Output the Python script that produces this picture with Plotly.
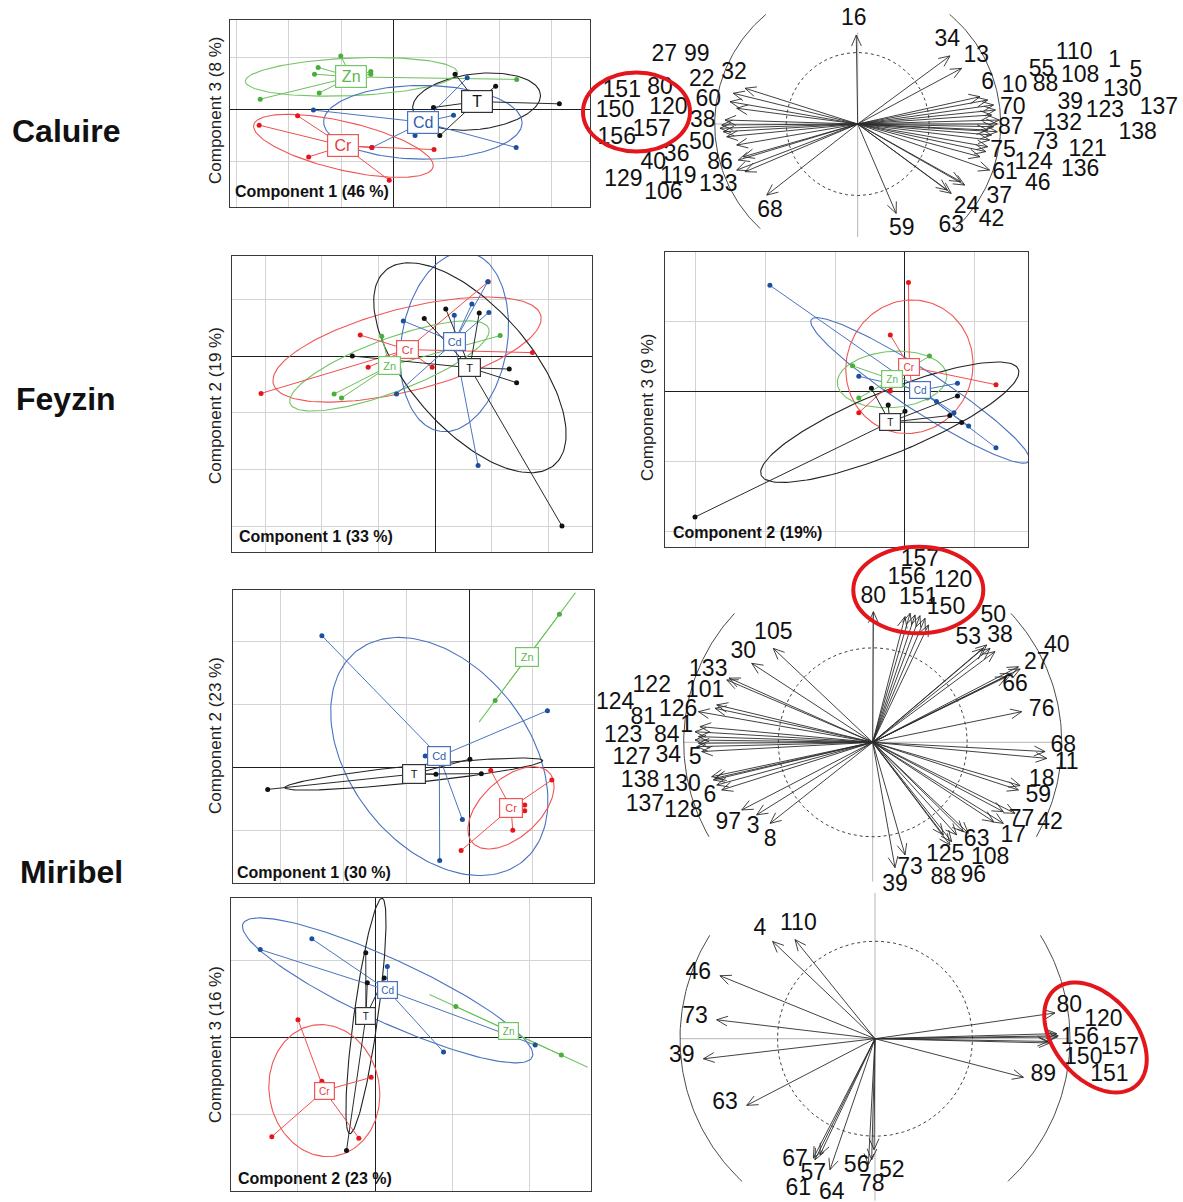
import numpy as np
import plotly.graph_objects as go

W, H = 1183, 1202

# ------------------------------------------------------------------
# DATA — scatter panels (group coordinates, in grid units)
# ------------------------------------------------------------------
# Caluire : component 1 (x) / component 3 (y)
cal_zn_x = [-1.01, -1.44, -1.51, -2.54, -1.42, -0.44, 2.33, -0.44]
cal_zn_y = [1.02, 0.80, 0.67, 0.19, 0.31, 0.67, 0.57, 0.72]
cal_t_x = [1.16, 1.93, 3.14, 0.87, 0.75, 1.56]
cal_t_y = [0.67, 0.44, 0.10, -0.51, 0.03, 0.13]
cal_cd_x = [-1.53, 1.39, 0.40, 2.32, -0.42, 1.13]
cal_cd_y = [-0.02, 0.60, -0.51, -0.74, -0.74, -0.12]
cal_cr_x = [-2.56, -1.83, -1.62, -0.09, -0.42, 0.76]
cal_cr_y = [-0.31, -0.13, -0.92, -1.37, -0.74, -0.78]

# Feyzin : component 1 (x) / component 2 (y)
fey12_cr_x = [-3.07, -1.32, -1.18, -0.05, 0.94, 1.72]
fey12_cr_y = [-0.66, 0.37, -0.20, -0.20, 1.31, 0.06]
fey12_zn_x = [-1.78, -1.65, -0.94, 1.15]
fey12_zn_y = [-0.67, -0.74, 0.35, 0.36]
fey12_cd_x = [-0.56, 0.34, 0.65, 0.95, 0.93, -0.68, 0.76]
fey12_cd_y = [0.62, 0.72, 0.92, 0.77, 1.31, -0.67, -1.93]
fey12_t_x = [-1.46, -0.19, 0.19, 0.78, 1.31, 1.44, 2.24]
fey12_t_y = [0.00, 0.66, 0.83, 0.76, -0.23, -0.47, -3.00]

# Feyzin : component 2 (x) / component 3 (y)
fey23_cr_x = [0.05, -0.21, 1.30, -0.66, -0.21, 0.11]
fey23_cr_y = [1.56, 0.81, 0.10, -0.30, 0.01, -0.04]
fey23_zn_x = [0.35, -0.75, -0.66, 0.32]
fey23_zn_y = [0.51, 0.37, -0.09, -0.09]
fey23_cd_x = [-1.93, -0.66, 0.75, 0.70, 0.91, 1.30, 0.45]
fey23_cd_y = [1.52, 0.22, 0.12, -0.30, -0.49, -0.80, -0.14]
fey23_t_x = [-3.00, -0.48, -0.24, 0.00, 0.75, 0.81, 0.64]
fey23_t_y = [-1.79, 0.05, -0.19, -0.28, -0.06, -0.44, -0.34]

# Miribel : component 1 (x) / component 2 (y)
mir12_cd_x = [-2.34, 1.24, -0.70, -0.11, -0.47]
mir12_cd_y = [2.09, 0.90, 0.18, -0.83, -1.48]
mir12_t_x = [-3.20, 0.01, -0.53, 0.19]
mir12_t_y = [-0.35, 0.13, -0.11, -0.10]
mir12_cr_x = [0.34, 1.31, 0.88, 0.88, 0.69, -0.13]
mir12_cr_y = [-0.05, -0.20, -0.60, -0.69, -1.00, -1.32]
mir12_zn_x = [1.43, 0.41]
mir12_zn_y = [2.43, 1.06]

# Miribel : component 2 (x) / component 3 (y)
mir23_cd_x = [-1.49, -0.82, 0.16, 0.89, 2.08]
mir23_cd_y = [1.14, 1.28, 0.92, -0.19, -0.10]
mir23_zn_x = [1.05, 2.42]
mir23_zn_y = [0.40, -0.23]
mir23_t_x = [-0.12, -0.10, 0.12, -0.37]
mir23_t_y = [1.10, 0.71, 0.77, -1.47]
mir23_cr_x = [-1.00, -1.34, -0.21, -0.05, -0.69]
mir23_cr_y = [0.23, -1.29, -1.31, -0.52, -0.57]

# ------------------------------------------------------------------
# DATA — correlation circles (arrow tips and label positions, radius 1 = outer circle)
# ------------------------------------------------------------------
cal_tip_x = [-0.01, 0.645, 0.726, 0.855, 0.909, 0.950, 0.963, 0.936, 0.990, 0.976, 0.950, 0.909,
             0.976, 0.936, 0.922, 0.909, 0.896, 0.855, 0.922, 0.721, 0.748, 0.654, 0.627, 0.269,
             -0.636, -0.788, -0.870, -0.893, -0.846, -0.928, -0.951, -0.963, -0.940, -0.916,
             -0.846, -0.800, -0.835, -0.788, -0.846]
cal_tip_y = [0.622, 0.476, 0.389, 0.191, 0.168, 0.133, 0.098, 0.063, 0.028, 0.0, -0.019, -0.042,
             -0.054, -0.077, -0.112, -0.159, -0.193, -0.229, -0.322, -0.403, -0.427, -0.485, -0.462, -0.625,
             -0.497, 0.250, 0.215, 0.156, 0.110, 0.028, -0.007, -0.030, -0.054, -0.089,
             -0.147, -0.229, -0.252, -0.334, -0.322]
cal_lab = ["27", "99", "22", "32", "151", "80", "150", "120", "156", "157", "60", "38", "50", "36",
           "40", "86", "129", "119", "106", "133", "68", "16", "34", "13", "6", "10", "88", "55",
           "108", "110", "1", "5", "130", "70", "39", "123", "137", "87", "132", "138", "75", "73",
           "121", "124", "136", "61", "46", "37", "24", "42", "63", "59"]
cal_lab_x = [-1.352, -1.126, -1.091, -0.865, -1.650, -1.383, -1.697, -1.324, -1.685, -1.441, -1.045,
             -1.084, -1.091, -1.266, -1.429, -0.963, -1.639, -1.255, -1.359, -0.975, -0.613, -0.027,
             0.627, 0.829, 0.909, 1.097, 1.313, 1.285, 1.555, 1.514, 1.797, 1.945, 1.850, 1.084,
             1.487, 1.729, 2.106, 1.071, 1.434, 1.958, 1.016, 1.313, 1.608, 1.231, 1.555, 1.030,
             1.259, 0.990, 0.761, 0.936, 0.654, 0.309]
cal_lab_y = [0.483, 0.483, 0.308, 0.355, 0.226, 0.250, 0.086, 0.110, -0.100, -0.042, 0.168, 0.016,
             -0.135, -0.217, -0.275, -0.275, -0.392, -0.369, -0.485, -0.427, -0.613, 0.732, 0.587,
             0.471, 0.285, 0.266, 0.273, 0.378, 0.331, 0.494, 0.436, 0.366, 0.238, 0.110, 0.145,
             0.086, 0.110, -0.030, 0.0, -0.065, -0.194, -0.135, -0.182, -0.271, -0.322, -0.345,
             -0.422, -0.513, -0.583, -0.671, -0.718, -0.736]

mir1_tip_x = [0.004, 0.198, 0.224, 0.250, 0.277, 0.295, 0.171, 0.603, 0.647, 0.621, 0.586, 0.771,
              0.780, 0.735, 0.709, 0.788, 0.912, 0.921, 0.780, 0.771, 0.691, 0.753, 0.691, 0.640,
              0.480, 0.506, 0.418, 0.409, 0.444, 0.374, 0.171, 0.118, -0.543, -0.614, -0.693,
              -0.799, -0.825, -0.843, -0.852, -0.834, -0.905, -0.931, -0.922, -0.940, -0.922,
              -0.940, -0.914, -0.922, -0.834, -0.825, -0.772, -0.760, -0.640, -0.526]
mir1_tip_y = [0.691, 0.683, 0.674, 0.670, 0.656, 0.621, 0.665, 0.515, 0.480, 0.497, 0.497, 0.400,
              0.388, 0.365, 0.347, 0.162, -0.049, -0.085, -0.229, -0.252, -0.367, -0.376, -0.429,
              -0.420, -0.473, -0.481, -0.526, -0.543, -0.490, -0.490, -0.596, -0.663, -0.429,
              -0.384, -0.358, -0.252, -0.226, -0.199, -0.182, -0.190, -0.049, -0.023, -0.005,
              0.012, 0.030, 0.056, 0.083, 0.162, 0.180, 0.198, 0.330, 0.340, 0.418, 0.497]
mir1_lab = ["157", "156", "120", "80", "151", "150", "50", "53", "38", "40", "27", "66", "76", "68",
            "11", "18", "59", "77", "42", "17", "63", "125", "108", "88", "96", "73", "39", "8", "3",
            "97", "6", "128", "137", "138", "130", "5", "127", "34", "123", "84", "1", "81", "124",
            "126", "122", "101", "133", "30", "105"]
mir1_lab_x = [0.250, 0.180, 0.426, 0.003, 0.241, 0.388, 0.638, 0.506, 0.674, 0.974, 0.868, 0.753,
              0.894, 1.008, 1.026, 0.894, 0.876, 0.788, 0.938, 0.744, 0.550, 0.383, 0.621, 0.374,
              0.532, 0.197, 0.118, -0.543, -0.632, -0.764, -0.861, -1.002, -1.205, -1.231, -1.011,
              -0.940, -1.275, -1.081, -1.320, -1.090, -0.984, -1.214, -1.363, -1.029, -1.169,
              -0.887, -0.870, -0.685, -0.526]
mir1_lab_y = [0.965, 0.868, 0.850, 0.770, 0.762, 0.709, 0.665, 0.550, 0.559, 0.506, 0.418, 0.303,
              0.171, -0.023, -0.111, -0.199, -0.288, -0.411, -0.429, -0.499, -0.517, -0.596, -0.614,
              -0.720, -0.711, -0.667, -0.755, -0.517, -0.447, -0.429, -0.288, -0.367, -0.332,
              -0.208, -0.226, -0.085, -0.085, -0.076, 0.030, 0.030, 0.083, 0.127, 0.206, 0.171,
              0.294, 0.268, 0.383, 0.479, 0.577]

mir2_tip_x = [-0.525, -0.410, -0.795, -0.812, -0.880, -0.658, 0.923, 0.940, 0.932, 0.935, 0.889,
              0.897, 0.761, -0.316, -0.308, -0.282, -0.231, -0.034, -0.017, -0.005]
mir2_tip_y = [0.499, 0.508, 0.323, 0.097, -0.103, -0.342, 0.132, 0.015, 0.026, 0.009, -0.014,
              -0.022, -0.198, -0.612, -0.621, -0.595, -0.672, -0.646, -0.621, -0.569]
mir2_lab = ["4", "110", "46", "73", "39", "63", "80", "120", "156", "157", "150", "151", "89",
            "67", "57", "61", "64", "56", "78", "52"]
mir2_lab_x = [-0.590, -0.393, -0.906, -0.923, -0.991, -0.769, 0.996, 1.171, 1.051, 1.256, 1.068,
              1.202, 0.863, -0.410, -0.316, -0.393, -0.222, -0.094, -0.017, 0.086]
mir2_lab_y = [0.559, 0.585, 0.337, 0.111, -0.090, -0.330, 0.166, 0.097, 0.004, -0.048, -0.099,
              -0.185, -0.185, -0.621, -0.697, -0.774, -0.791, -0.654, -0.749, -0.680]

# ------------------------------------------------------------------
# STYLE
# ------------------------------------------------------------------
PT = {"Cr": "#e8141b", "Cd": "#1d4f9e", "Zn": "#4aae3c", "T": "#111111"}
LN = {"Cr": "#ef4f4f", "Cd": "#4a76c0", "Zn": "#6cbf5a", "T": "#2a2a2a"}
EL = {"Cr": "#f05555", "Cd": "#4a72c0", "Zn": "#74c565", "T": "#222222"}
BOXTXT = {"Cr": "#e83a3a", "Cd": "#2f5fae", "Zn": "#5cb84c", "T": "#111111"}
FONT = "Liberation Sans, Arial, sans-serif"

fig = go.Figure()
axes_layout = {}
annotations = []
shapes = []
counter = [0]


def new_axes(box, xr, yr, grid):
    counter[0] += 1
    i = counter[0]
    xn = "xaxis" if i == 1 else f"xaxis{i}"
    yn = "yaxis" if i == 1 else f"yaxis{i}"
    xref = "x" if i == 1 else f"x{i}"
    yref = "y" if i == 1 else f"y{i}"
    l, t, r, b = box
    dx = [l / W, r / W]
    dy = [1 - b / H, 1 - t / H]
    if grid:
        common = dict(dtick=1, tick0=0, showgrid=True, gridcolor="#d3d3d3", gridwidth=1.4,
                      zeroline=True, zerolinecolor="#1e1e1e", zerolinewidth=1.3,
                      showline=True, mirror=True, linecolor="#3a3a3a", linewidth=1,
                      showticklabels=False, ticks="", fixedrange=True)
    else:
        common = dict(visible=False, fixedrange=True)
    axes_layout[xn] = dict(domain=dx, range=xr, anchor=yref, **common)
    axes_layout[yn] = dict(domain=dy, range=yr, anchor=xref, **common)
    return xref, yref


def ellipse(xs, ys, k=1.5, n=160):
    x = np.asarray(xs, float)
    y = np.asarray(ys, float)
    c = np.cov(np.vstack([x, y]), bias=True)
    w, v = np.linalg.eigh(c)
    w = np.clip(w, 0, None)
    t = np.linspace(0, 2 * np.pi, n)
    pts = v @ (np.sqrt(w)[:, None] * np.vstack([np.cos(t), np.sin(t)]))
    return x.mean() + k * pts[0], y.mean() + k * pts[1]


def scatter_panel(box, xr, yr, groups, fsize, bw, bh):
    xa, ya = new_axes(box, xr, yr, True)
    for name, xs, ys in groups:
        ex, ey = ellipse(xs, ys)
        fig.add_trace(go.Scatter(x=ex, y=ey, mode="lines", line=dict(color=EL[name], width=1.1),
                                 xaxis=xa, yaxis=ya, hoverinfo="skip"))
    for name, xs, ys in groups:
        mx, my = float(np.mean(xs)), float(np.mean(ys))
        sx, sy = [], []
        for px, py in zip(xs, ys):
            sx += [mx, px, None]
            sy += [my, py, None]
        fig.add_trace(go.Scatter(x=sx, y=sy, mode="lines", line=dict(color=LN[name], width=1),
                                 xaxis=xa, yaxis=ya, hoverinfo="skip"))
    for name, xs, ys in groups:
        fig.add_trace(go.Scatter(x=xs, y=ys, mode="markers",
                                 marker=dict(color=PT[name], size=5),
                                 xaxis=xa, yaxis=ya, hoverinfo="skip"))
    for name, xs, ys in groups:
        mx, my = float(np.mean(xs)), float(np.mean(ys))
        annotations.append(dict(x=mx, y=my, xref=xa, yref=ya, text=name, showarrow=False,
                                font=dict(family=FONT, size=fsize, color=BOXTXT[name]),
                                bgcolor="white", bordercolor=EL[name] if name != "T" else "#333",
                                borderwidth=1.2, borderpad=0, width=bw, height=bh,
                                xanchor="center", yanchor="middle"))


def circle_panel(box, center, s, tx, ty, labs, lx, ly, arc_lim, vlim):
    l, t, r, b = box
    cx, cy = center
    xr = [(l - cx) / s, (r - cx) / s]
    yr = [(cy - b) / s, (cy - t) / s]
    xa, ya = new_axes(box, xr, yr, False)
    # axis lines
    fig.add_trace(go.Scatter(x=[0, 0, None, -1.0, 1.0], y=[vlim[0], vlim[1], None, 0, 0],
                             mode="lines", line=dict(color="#b4b4b4", width=1),
                             xaxis=xa, yaxis=ya, hoverinfo="skip", cliponaxis=False))
    th = np.linspace(0, 2 * np.pi, 361)
    fig.add_trace(go.Scatter(x=0.5 * np.cos(th), y=0.5 * np.sin(th), mode="lines",
                             line=dict(color="#444", width=1, dash="dot"),
                             xaxis=xa, yaxis=ya, hoverinfo="skip"))
    ox = np.cos(th)
    oy = np.sin(th)
    mask = (oy < arc_lim[0]) | (oy > arc_lim[1])
    ox = np.where(mask, np.nan, ox)
    oy = np.where(mask, np.nan, oy)
    fig.add_trace(go.Scatter(x=ox, y=oy, mode="lines", line=dict(color="#4a4a4a", width=1),
                             xaxis=xa, yaxis=ya, hoverinfo="skip", connectgaps=False))
    # arrows
    hl = 12.0 / s
    phi = np.deg2rad(24)
    ax, ay = [], []
    for x, y in zip(tx, ty):
        a = np.arctan2(y, x)
        ax += [0, x, None,
               x - hl * np.cos(a - phi), x, x - hl * np.cos(a + phi), None]
        ay += [0, y, None,
               y - hl * np.sin(a - phi), y, y - hl * np.sin(a + phi), None]
    fig.add_trace(go.Scatter(x=ax, y=ay, mode="lines", line=dict(color="#2c2c2c", width=0.9),
                             xaxis=xa, yaxis=ya, hoverinfo="skip"))
    fig.add_trace(go.Scatter(x=lx, y=ly, text=labs, mode="text", textposition="middle center",
                             textfont=dict(family=FONT, size=23, color="#111"),
                             xaxis=xa, yaxis=ya, hoverinfo="skip", cliponaxis=False))


# ---------------- panels ----------------
scatter_panel((230, 20, 590, 206.7), [-3.114, 3.722], [-1.878, 1.712],
              [("Zn", cal_zn_x, cal_zn_y), ("T", cal_t_x, cal_t_y),
               ("Cd", cal_cd_x, cal_cd_y), ("Cr", cal_cr_x, cal_cr_y)], 16, 30, 21)
circle_panel((580, 0, 1183, 240), (857.7, 124), 143, cal_tip_x, cal_tip_y,
             cal_lab, cal_lab_x, cal_lab_y, (-0.741, 0.776), (-0.79, 0.64))

scatter_panel((231.7, 256, 591.7, 551.7), [-3.588, 2.765], [-3.453, 1.765],
              [("Cr", fey12_cr_x, fey12_cr_y), ("Zn", fey12_zn_x, fey12_zn_y),
               ("Cd", fey12_cd_x, fey12_cd_y), ("T", fey12_t_x, fey12_t_y)], 11, 21, 17)
scatter_panel((665, 251.7, 1028.3, 546.7), [-3.429, 1.762], [-2.214, 2.0],
              [("Cr", fey23_cr_x, fey23_cr_y), ("Zn", fey23_zn_x, fey23_zn_y),
               ("Cd", fey23_cd_x, fey23_cd_y), ("T", fey23_t_x, fey23_t_y)], 10, 20, 16)

scatter_panel((233.3, 590, 594, 883.3), [-3.746, 1.979], [-1.841, 2.815],
              [("Cd", mir12_cd_x, mir12_cd_y), ("T", mir12_t_x, mir12_t_y),
               ("Cr", mir12_cr_x, mir12_cr_y), ("Zn", mir12_zn_x, mir12_zn_y)], 11, 22, 18)
circle_panel((590, 545, 1100, 895), (872.7, 742.3), 189, mir1_tip_x, mir1_tip_y,
             mir1_lab, mir1_lab_x, mir1_lab_y, (-0.506, 0.691), (-0.737, 0.69))

scatter_panel((231, 898, 591, 1191.3), [-1.870, 2.805], [-2.0, 1.81],
              [("Cd", mir23_cd_x, mir23_cd_y), ("Zn", mir23_zn_x, mir23_zn_y),
               ("T", mir23_t_x, mir23_t_y), ("Cr", mir23_cr_x, mir23_cr_y)], 10, 19, 16)
circle_panel((650, 893, 1183, 1202), (875, 1038.7), 195, mir2_tip_x, mir2_tip_y,
             mir2_lab, mir2_lab_x, mir2_lab_y, (-0.74, 0.533), (-0.83, 0.748))

# ---------------- texts ----------------
def pap(px, py):
    return px / W, 1 - py / H

for text, (px, py) in [("Caluire", (66, 131)), ("Feyzin", (66, 399)), ("Miribel", (71, 872))]:
    x, y = pap(px, py)
    annotations.append(dict(x=x, y=y, xref="paper", yref="paper", text=f"<b>{text}</b>",
                            showarrow=False, font=dict(family=FONT, size=32, color="#111"),
                            xanchor="center", yanchor="middle"))

ytitles = [("Component 3 (8 %)", 215, 111), ("Component 2 (19 %)", 216, 406),
           ("Component 3 (9 %)", 648, 408), ("Component 2 (23 %)", 215, 736),
           ("Component 3 (16 %)", 215, 1045)]
for text, px, py in ytitles:
    x, y = pap(px, py)
    annotations.append(dict(x=x, y=y, xref="paper", yref="paper", text=text, textangle=-90,
                            showarrow=False, font=dict(family=FONT, size=17, color="#222"),
                            xanchor="center", yanchor="middle"))

xtitles = [("Component 1 (46 %)", 233, 192), ("Component 1 (33 %)", 237, 536),
           ("Component 2 (19%)", 671, 532), ("Component 1 (30 %)", 235, 872),
           ("Component 2 (23 %)", 236, 1178)]
for text, px, py in xtitles:
    x, y = pap(px, py)
    annotations.append(dict(x=x, y=y, xref="paper", yref="paper", text=f"<b>{text}</b>",
                            showarrow=False, font=dict(family=FONT, size=16, color="#111"),
                            xanchor="left", yanchor="middle"))

# ---------------- red highlight ellipses ----------------
RED = "#e3161c"
for (cx, cy, rx, ry) in [(636.5, 112, 53.5, 39.5), (918.3, 590, 65, 43.3)]:
    x0, y1 = pap(cx - rx, cy - ry)
    x1, y0 = pap(cx + rx, cy + ry)
    shapes.append(dict(type="circle", xref="paper", yref="paper", x0=x0, x1=x1, y0=y0, y1=y1,
                       line=dict(color=RED, width=4), layer="above"))

cx, cy, a, b, ang = 1095.5, 1037.5, 63, 41, np.deg2rad(50)
tt = np.linspace(0, 2 * np.pi, 90)
ex = cx + a * np.cos(ang) * np.cos(tt) - b * np.sin(ang) * np.sin(tt)
ey = cy + a * np.sin(ang) * np.cos(tt) + b * np.cos(ang) * np.sin(tt)
path = "M " + " L ".join(f"{x / W:.5f},{1 - y / H:.5f}" for x, y in zip(ex, ey)) + " Z"
shapes.append(dict(type="path", path=path, xref="paper", yref="paper",
                   line=dict(color=RED, width=4), layer="above"))

fig.update_layout(width=W, height=H, margin=dict(l=0, r=0, t=0, b=0),
                  paper_bgcolor="white", plot_bgcolor="rgba(0,0,0,0)",
                  showlegend=False, annotations=annotations, shapes=shapes,
                  font=dict(family=FONT), **axes_layout)

fig.write_html("out.html", config={"displayModeBar": False},
               post_script="document.body.style.margin='0';document.body.style.padding='0';")
